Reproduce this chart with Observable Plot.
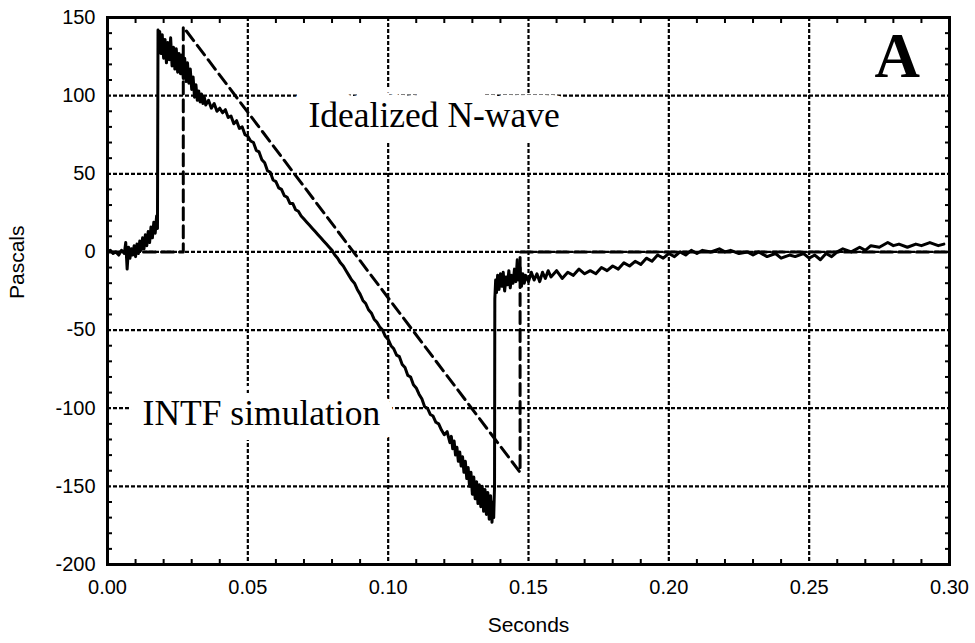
<!DOCTYPE html>
<html>
<head>
<meta charset="utf-8">
<script src="https://cdn.jsdelivr.net/npm/d3@7"></script>
<script src="https://cdn.jsdelivr.net/npm/@observablehq/plot@0.6"></script>
<style>
  html, body { margin: 0; padding: 0; background: white; }
  #chart { width: 975px; height: 643px; }
</style>
</head>
<body>
<div id="chart"></div>
<script>
// ---- tick values ----
const xTicks = [0, 0.05, 0.10, 0.15, 0.20, 0.25, 0.30];
const yTicks = [-200, -150, -100, -50, 0, 50, 100, 150];
const xMinor = [0.01,0.02,0.03,0.04,0.06,0.07,0.08,0.09,0.11,0.12,0.13,0.14,0.16,0.17,0.18,0.19,0.21,0.22,0.23,0.24,0.26,0.27,0.28,0.29];
const yMinor = [-190,-180,-170,-160,-140,-130,-120,-110,-90,-80,-70,-60,-40,-30,-20,-10,10,20,30,40,60,70,80,90,110,120,130,140];

// ---- Idealized N-wave (dashed) ----
const nwaveTime    = [0, 0.027, 0.027, 0.147, 0.147, 0.30];
const nwavePascals = [0, 0,     144,   -141,  0,     0];

// ---- INTF simulation (solid, noisy measured trace) ----
const intfTime = [
  0, 0.001, 0.002, 0.003, 0.004, 0.005, 0.006, 0.0065, 0.007, 0.0075, 0.008, 0.0085, 0.009, 0.0095,
  0.010, 0.0105, 0.011, 0.0115, 0.012, 0.0125, 0.013, 0.0135, 0.014, 0.0145, 0.015, 0.0155, 0.016,
  0.0165, 0.017, 0.0175, 0.0178, 0.0180,
  0.0183, 0.0186, 0.019, 0.0195, 0.020, 0.0205, 0.021, 0.0215, 0.022, 0.0225, 0.023, 0.0235, 0.024,
  0.0245, 0.025, 0.0255, 0.026, 0.0265, 0.027, 0.0275, 0.028, 0.0285, 0.029, 0.0295, 0.030, 0.0305,
  0.031, 0.0315, 0.032, 0.0325, 0.033, 0.0335, 0.034, 0.0345, 0.035, 0.036, 0.037, 0.038, 0.039, 0.040,
  0.041, 0.042, 0.043, 0.044, 0.045, 0.046, 0.047, 0.048, 0.049, 0.050, 0.051, 0.052, 0.053, 0.054,
  0.055, 0.056, 0.057, 0.058, 0.059, 0.060, 0.061, 0.062, 0.063, 0.064, 0.065, 0.066, 0.067, 0.068,
  0.069, 0.070, 0.071, 0.072, 0.073, 0.074, 0.075, 0.076, 0.077, 0.078, 0.079, 0.080, 0.081, 0.082,
  0.083, 0.084, 0.085, 0.086, 0.087, 0.088, 0.089, 0.090, 0.091, 0.092, 0.093, 0.094, 0.095, 0.096,
  0.097, 0.098, 0.099, 0.100, 0.101, 0.102, 0.103, 0.104, 0.105, 0.106, 0.107, 0.108, 0.109, 0.110,
  0.111, 0.112, 0.113, 0.114, 0.115, 0.116, 0.117, 0.118, 0.119,
  0.120, 0.121, 0.122, 0.1225, 0.123, 0.1235, 0.124, 0.1245, 0.125, 0.1255, 0.126, 0.1265, 0.127,
  0.1275, 0.128, 0.1285, 0.129, 0.1295, 0.130, 0.1305, 0.131, 0.1315, 0.132, 0.1325, 0.133, 0.1335,
  0.134, 0.1345, 0.135, 0.1355, 0.136, 0.1365, 0.137, 0.1373, 0.1376, 0.1379, 0.1380,
  0.1383, 0.1386, 0.139, 0.1395, 0.140, 0.1405, 0.141, 0.1415, 0.142, 0.1425, 0.143, 0.1435, 0.144,
  0.1445, 0.145, 0.1455, 0.146, 0.1465, 0.147, 0.1475, 0.148, 0.1485, 0.149, 0.150, 0.151, 0.152,
  0.153, 0.154, 0.155, 0.156, 0.157, 0.158, 0.160, 0.162, 0.164, 0.166, 0.168, 0.170, 0.172, 0.174,
  0.176, 0.178, 0.180, 0.182, 0.184, 0.186, 0.188, 0.190, 0.192, 0.194, 0.196, 0.198, 0.200, 0.202,
  0.204, 0.206, 0.208, 0.210, 0.212, 0.215, 0.218, 0.220, 0.222, 0.225, 0.228, 0.230, 0.232, 0.235,
  0.238, 0.240, 0.243, 0.245, 0.248, 0.250, 0.252, 0.254, 0.256, 0.258, 0.260, 0.262, 0.265, 0.268,
  0.270, 0.272, 0.275, 0.278, 0.280, 0.282, 0.285, 0.288, 0.290, 0.293, 0.296, 0.298, 0.300
];
const intfPascals = [
  0, 1, -1, 0, -2, 1, -1, 6, -11, 3, -4, 2, -2, 4,
  -3, 5, -1, 7, 1, 9, 2, 11, 4, 13, 6, 16, 9,
  19, 12, 23, 15, 142,
  133, 141, 127, 139, 124, 136, 121, 134, 123, 137, 119, 131, 117,
  130, 115, 127, 114, 126, 111, 124, 109, 121, 108, 117, 104, 112,
  99, 107, 97, 103, 96, 101, 95, 99, 94, 97, 92, 95, 90, 92,
  89, 91, 86, 87, 82, 84, 79, 80, 75, 74, 71, 70, 65, 64,
  59, 57, 52, 51, 46, 45, 41, 40, 36, 35, 31, 31, 27, 26,
  23, 21, 19, 17, 15, 13, 11, 9, 7, 5, 3, 1, -2, -4,
  -7, -9, -12, -15, -18, -20, -24, -27, -31, -33, -37, -39, -43, -45,
  -48, -50, -54, -56, -60, -62, -66, -67, -72, -74, -79, -80, -85, -87,
  -91, -94, -99, -100, -104, -105, -109, -110, -114,
  -117, -115, -122, -118, -126, -121, -130, -125, -134, -128, -137, -131, -141,
  -134, -145, -138, -150, -141, -155, -144, -158, -147, -161, -149, -163, -150,
  -166, -152, -168, -154, -171, -156, -173, -160, -170, -150, -30,
  -18, -26, -15, -24, -14, -22, -13, -25, -16, -21, -12, -23, -15,
  -20, -11, -19, -5, -18, -10, -22, -14, -20, -15, -19, -13,
  -18, -14, -19, -13, -17, -12, -16, -12, -17, -13, -15, -11, -14, -12,
  -14, -10, -12, -9, -11, -7, -9, -6, -8, -4, -6, -2, -4, -1,
  -3, 0, -2, 1, -1, 1, 0, 2, 0, 1, -1, 0, -2, 0,
  -3, -1, -4, -2, -3, -1, -4, -2, -5, -1, -3, 0, 2, 0,
  3, 1, 4, 3, 6, 4, 5, 3, 5, 4, 6, 4, 5
];

// ---- annotations ----
const noteLabels  = ["Idealized N-wave", "INTF simulation"];
const noteTime    = [0.0716, 0.0125];
const notePascals = [80, -111];
const panelLabel  = ["A"];
const panelTime   = [0.2733];
const panelPascals= [112];

// tables built from the arrays
const nwave = nwaveTime.map((t, i) => ({t, p: nwavePascals[i]}));
const intf  = intfTime.map((t, i) => ({t, p: intfPascals[i]}));
const notes = noteLabels.map((label, i) => ({label, t: noteTime[i], p: notePascals[i]}));
const panel = panelLabel.map((label, i) => ({label, t: panelTime[i], p: panelPascals[i]}));

const chart = Plot.plot({
  width: 975,
  height: 643,
  marginLeft: 107,
  marginRight: 26,
  marginTop: 17,
  marginBottom: 79,
  style: {fontFamily: "'Liberation Sans', Arial, sans-serif", fontSize: "20px", background: "white", color: "black", overflow: "visible"},
  x: {domain: [0, 0.3], axis: null},
  y: {domain: [-200, 150], axis: null},
  marks: [
    Plot.gridX(xTicks, {stroke: "black", strokeOpacity: 1, strokeWidth: 2.2, strokeDasharray: "4,2"}),
    Plot.gridY(yTicks, {stroke: "black", strokeOpacity: 1, strokeWidth: 2.2, strokeDasharray: "4,2"}),
    // minor ticks (inward)
    Plot.axisX(xMinor, {anchor: "bottom", tickSize: -5, text: null, label: null, strokeWidth: 2}),
    Plot.axisX(xMinor, {anchor: "top", tickSize: -5, text: null, label: null, strokeWidth: 2}),
    Plot.axisY(yMinor, {anchor: "left", tickSize: -5, text: null, label: null, strokeWidth: 2}),
    Plot.axisY(yMinor, {anchor: "right", tickSize: -5, text: null, label: null, strokeWidth: 2}),
    // tick labels
    Plot.axisX(xTicks, {anchor: "bottom", tickSize: 0, tickPadding: 15, tickFormat: d => d.toFixed(2), label: null, fontSize: 20}),
    Plot.axisY(yTicks, {anchor: "left", tickSize: 0, tickPadding: 12, tickFormat: d => d.toFixed(0), label: null, fontSize: 20}),
    // annotations with white halo (hides the grid behind the label)
    Plot.text(notes, {x: "t", y: "p", text: "label", textAnchor: "start", lineAnchor: "bottom",
      fontFamily: "'Liberation Serif', 'Times New Roman', serif", fontSize: 35.5, fill: "black",
      stroke: "white", strokeWidth: 30, strokeLinejoin: "round"}),
    Plot.text(panel, {x: "t", y: "p", text: "label", textAnchor: "start", lineAnchor: "bottom",
      fontFamily: "'Liberation Serif', 'Times New Roman', serif", fontSize: 63, fontWeight: "bold", fill: "black"}),
    // data
    Plot.line(nwave, {x: "t", y: "p", stroke: "black", strokeWidth: 3, strokeDasharray: "12,6"}),
    Plot.line(intf, {x: "t", y: "p", stroke: "black", strokeWidth: 3, strokeLinejoin: "round"}),
    Plot.frame({stroke: "black", strokeWidth: 3}),
    // axis titles
    Plot.text(["Seconds"], {frameAnchor: "bottom", text: d => d, dy: 61, lineAnchor: "middle", fontSize: 21}),
    Plot.text(["Pascals"], {frameAnchor: "left", text: d => d, dx: -90, dy: 8, rotate: -90, fontSize: 21})
  ]
});
document.getElementById("chart").appendChild(chart);
</script>
</body>
</html>
